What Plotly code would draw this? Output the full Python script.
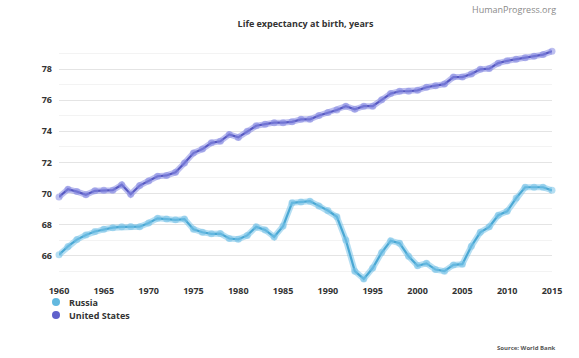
import plotly.graph_objects as go

years = list(range(1960, 2016))

russia = [66.06, 66.59, 67.03, 67.33, 67.55, 67.70, 67.80, 67.85, 67.87, 67.86,
          68.10, 68.40, 68.35, 68.30, 68.35, 67.70, 67.50, 67.40, 67.42, 67.10,
          67.05, 67.30, 67.85, 67.65, 67.20, 67.90, 69.40, 69.45, 69.50, 69.20,
          68.90, 68.50, 67.00, 65.00, 64.50, 65.20, 66.20, 66.95, 66.80, 65.95,
          65.35, 65.50, 65.10, 65.00, 65.40, 65.45, 66.60, 67.50, 67.85, 68.60,
          68.85, 69.70, 70.40, 70.40, 70.40, 70.20]

usa = [69.77, 70.27, 70.12, 69.92, 70.17, 70.21, 70.21, 70.56, 69.95, 70.51,
       70.81, 71.11, 71.16, 71.36, 71.96, 72.60, 72.86, 73.26, 73.36, 73.80,
       73.61, 74.01, 74.36, 74.46, 74.56, 74.56, 74.61, 74.77, 74.77, 75.02,
       75.21, 75.37, 75.62, 75.42, 75.62, 75.62, 76.03, 76.43, 76.58, 76.58,
       76.64, 76.84, 76.94, 77.04, 77.49, 77.49, 77.69, 77.99, 78.04, 78.39,
       78.54, 78.64, 78.74, 78.84, 78.94, 79.16]

x_ticks = list(range(1960, 2016, 5))
y_ticks = [66, 68, 70, 72, 74, 76, 78]
y_minor = [65, 67, 69, 71, 73, 75, 77, 79]

series_names = ["Russia", "United States"]
line_colors = ["#4aa8d4", "#5759c2"]
halo_colors = ["rgba(120,195,232,0.55)", "rgba(135,138,225,0.55)"]
legend_colors = ["#62b8df", "#5f61cb"]

W, H = 579, 358
L, T, R, B = 59, 49, 27, 76
PW, PH = W - L - R, H - T - B


def px(page_x):
    return (page_x - L) / PW


def py(page_y):
    return 1 - (page_y - T) / PH


fig = go.Figure()

for name, vals, lc, hc in zip(series_names, [russia, usa], line_colors, halo_colors):
    fig.add_trace(go.Scatter(x=years, y=vals, mode="lines",
                             line=dict(color=hc, width=6),
                             hoverinfo="skip", showlegend=False, cliponaxis=False))
    fig.add_trace(go.Scatter(x=years, y=vals, mode="lines+markers", name=name,
                             line=dict(color=lc, width=2.2),
                             marker=dict(size=7, color=hc, line=dict(width=0)),
                             showlegend=False, cliponaxis=False))

shapes = []
annotations = []
legend_rows = [302, 315]
for name, c, yy in zip(series_names, legend_colors, legend_rows):
    shapes.append(dict(type="circle", xref="paper", yref="paper",
                       xsizemode="pixel", ysizemode="pixel",
                       xanchor=px(56), yanchor=py(yy),
                       x0=-4, x1=4, y0=-4, y1=4,
                       fillcolor=c, line=dict(width=0)))
    annotations.append(dict(text="<b>%s</b>" % name, xref="paper", yref="paper",
                            x=px(67), xanchor="left", y=py(yy), yanchor="middle",
                            showarrow=False,
                            font=dict(size=9, color="#333333", family="Open Sans")))

annotations += [
    dict(text="HumanProgress.org", xref="paper", yref="paper",
         x=px(558), xanchor="right", y=py(9), yanchor="middle",
         showarrow=False, font=dict(size=9, color="#8a8a8a", family="Open Sans")),
    dict(text="<b>Source: World Bank</b>", xref="paper", yref="paper",
         x=px(558), xanchor="right", y=py(348), yanchor="middle",
         showarrow=False, font=dict(size=6, color="#555555", family="Open Sans")),
]

fig.update_layout(
    width=W, height=H,
    margin=dict(l=L, r=R, t=T, b=B),
    paper_bgcolor="white", plot_bgcolor="white",
    font=dict(family="Open Sans", color="#333333"),
    title=dict(text="<b>Life expectancy at birth, years</b>",
               x=(L + PW / 2) / W, xanchor="center",
               y=1 - 24 / H, yanchor="middle",
               font=dict(size=9, color="#333333", family="Open Sans")),
    showlegend=False,
    hovermode=False,
    xaxis=dict(range=[1960, 2015], tickmode="array",
               tickvals=x_ticks, ticktext=[str(v) for v in x_ticks],
               showgrid=False, zeroline=False, showline=False, ticks="",
               ticklabelstandoff=2,
               tickfont=dict(size=9, color="#333333", family="Open Sans", weight="bold")),
    yaxis=dict(range=[64.3, 79.3], tickmode="array",
               tickvals=y_ticks,
               showgrid=True, gridcolor="#e4e4e4", gridwidth=1,
               zeroline=False, showline=False, ticks="",
               ticklabelstandoff=6,
               minor=dict(tickvals=y_minor,
                          showgrid=True, gridcolor="#f3f3f3", gridwidth=1),
               tickfont=dict(size=9, color="#333333", family="Open Sans", weight="bold")),
    shapes=shapes,
    annotations=annotations,
)

fig.write_html("out.html",
               config={"displayModeBar": False, "staticPlot": True},
               post_script="document.body.style.margin='0';document.body.style.padding='0';")
